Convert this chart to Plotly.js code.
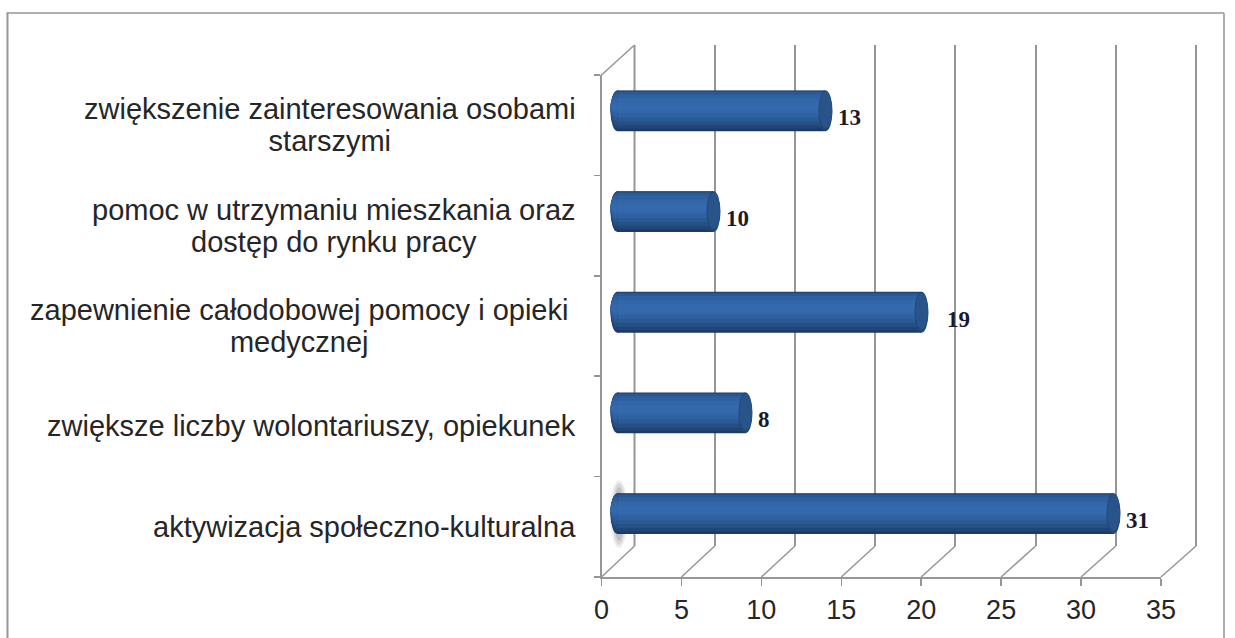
<!DOCTYPE html>
<html>
<head>
<meta charset="utf-8">
<script src="https://cdn.plot.ly/plotly-3.0.1.min.js"></script>
<style>html,body{margin:0;padding:0;background:#fff;overflow:hidden}#c{width:1235px;height:638px}</style>
</head>
<body>
<div id="c"></div>
<script>
const categories = [
  "aktywizacja społeczno-kulturalna",
  "zwiększe liczby wolontariuszy, opiekunek",
  "zapewnienie całodobowej pomocy i opieki<br>medycznej",
  "pomoc w utrzymaniu mieszkania oraz<br>dostęp do rynku pracy",
  "zwiększenie zainteresowania osobami<br>starszymi"
];
const barValues = [31, 8, 19, 6, 13];
const dataLabels = ["31", "8", "19", "10", "13"];
const xTicks = [0, 5, 10, 15, 20, 25, 30, 35];

const W = 1235, H = 638;
const px = x => x / W, py = y => 1 - y / H;
const FRONT = {l: 601.5, r: 1161, t: 75, b: 577};
const BACK = {l: 634.5, r: 1196, t: 45, b: 546};
const BARS = {l: 601.5, r: 1177.5, t: 60.5, b: 564};
const CAP = 0.875, BAR_W = 0.405;
const LINE = '#969696', TEXT = '#262626';
const LABEL_SIZE = 29, LABEL_LINE_GAP = 32;

const layers = [
  [0.00, 1.00, '#1b3a68'], [0.01, 0.94, '#214576'], [0.02, 0.86, '#265083'],
  [0.04, 0.76, '#2a5a93'], [0.10, 0.66, '#2e619f'], [0.20, 0.56, '#3266a8'],
  [0.30, 0.50, '#3469ad']
];
const traces = [];
traces.push({type:'scatter', mode:'markers', x:[0,35], y:[0,1], xaxis:'x', yaxis:'y',
  marker:{opacity:0}, hoverinfo:'skip', showlegend:false});
traces.push({type:'scatter', mode:'markers', x:barValues, y:categories, xaxis:'x2', yaxis:'y2',
  marker:{opacity:0}, hoverinfo:'skip', showlegend:false});
layers.forEach(([a, b, color]) => traces.push({
  type:'bar', orientation:'h', y:categories, x:barValues,
  xaxis:'x3', yaxis:'y3', width:BAR_W * (b - a),
  offset:BAR_W / 2 - BAR_W * b,
  marker:{color, line:{width:0}}, hoverinfo:'skip', showlegend:false
}));

const shapes = [];
const seg = (x0, y0, x1, y1, w) => shapes.push({type:'line', xref:'paper', yref:'paper',
  x0:px(x0), y0:py(y0), x1:px(x1), y1:py(y1), line:{color:LINE, width:w}, layer:'below'});
// outer frame
seg(7.5, 13, 7.5, 638, 2); seg(6.5, 13, 1224, 13, 1.5); seg(1224, 13, 1224, 638, 1.5);
// back wall edges, floor diagonals and wall top
seg(BACK.l, BACK.t, BACK.l, BACK.b, 2); seg(BACK.r, BACK.t, BACK.r, BACK.b, 2);
xTicks.forEach(t => {
  const f = FRONT.l + (FRONT.r - FRONT.l) * t / 35, b = BACK.l + (BACK.r - BACK.l) * t / 35;
  seg(f, FRONT.b, b, BACK.b, 1.5);
});
seg(FRONT.l, FRONT.t, BACK.l, BACK.t, 1.5);
// smudge behind the lowest bar
[[-8, 34, 0.10], [-6, 31, 0.14], [-4, 27, 0.18]].forEach(([dx, dy, o]) => shapes.push({
  type:'circle', xref:'paper', yref:'paper', layer:'below', opacity:o,
  fillcolor:'#555', line:{width:0},
  x0:px(618 + dx), x1:px(620 - dx), y0:py(514 + dy), y1:py(514 - dy)
}));
barValues.forEach((v, i) => {
  // rounded start of the cylinder, under the bar strips
  layers.forEach(([a, b, color]) => shapes.push({type:'circle', xref:'x3', yref:'y3', layer:'below',
    x0:-CAP / 2, x1:CAP / 2, y0:i + BAR_W / 2 - BAR_W * b, y1:i + BAR_W / 2 - BAR_W * a,
    fillcolor:color, line:{width:0}}));
  // end cap of the cylinder
  shapes.push({type:'circle', xref:'x3', yref:'y3', layer:'above', x0:v - CAP / 2, x1:v + CAP / 2,
    y0:i - BAR_W / 2, y1:i + BAR_W / 2, fillcolor:'#214776', line:{width:0}});
  shapes.push({type:'circle', xref:'x3', yref:'y3', layer:'above', x0:v - CAP / 2 + 0.05, x1:v + CAP / 2 - 0.03,
    y0:i - BAR_W * 0.42, y1:i + BAR_W * 0.47, fillcolor:'#29548a', line:{width:0}});
});

const annotations = [];
categories.forEach((c, i) => annotations.push({
  xref:'paper', yref:'y2', x:px(578), y:c, xanchor:'right', yanchor:'middle', align:'center',
  text:c, showarrow:false, xshift:i === 2 ? -8 : 0,
  yshift:c.includes('<br>') ? -3 : 0,
  font:{family:'"Liberation Sans", Arial, sans-serif', size:LABEL_SIZE, color:TEXT}
}));
dataLabels.forEach((t, i) => annotations.push({
  xref:'x3', yref:'y3', x:barValues[i] + CAP / 2, y:categories[i], xanchor:'left', yanchor:'middle',
  xshift:(i === 2 ? 16 : 3), yshift:-7, text:'<b>' + t + '</b>', showarrow:false,
  font:{family:'"Liberation Serif", serif', size:23, color:'#1a1a2a'}
}));

const layout = {
  width:W, height:H, margin:{l:0, r:0, t:0, b:0}, autosize:false,
  paper_bgcolor:'#fff', plot_bgcolor:'rgba(0,0,0,0)', showlegend:false, barmode:'overlay',
  xaxis:{domain:[px(BACK.l), px(BACK.r)], range:[0,35], tickvals:xTicks, showticklabels:false,
    ticks:'', showgrid:true, gridcolor:LINE, gridwidth:2, zeroline:false, showline:false, anchor:'y'},
  yaxis:{domain:[py(BACK.b), py(BACK.t)], range:[0,1], showticklabels:false, ticks:'',
    showgrid:false, zeroline:false, showline:false, anchor:'x'},
  xaxis2:{domain:[px(FRONT.l), px(FRONT.r)], range:[0,35], tickvals:xTicks, ticktext:xTicks.map(String),
    tickmode:'array', ticks:'outside', ticklen:7, tickwidth:1.5, tickcolor:LINE, showgrid:false, zeroline:false,
    showline:true, linecolor:LINE, linewidth:2, anchor:'y2', tickangle:0, ticklabelstandoff:1,
    tickfont:{family:'"Liberation Sans", Arial, sans-serif', size:27, color:TEXT}},
  yaxis2:{domain:[py(FRONT.b), py(FRONT.t)], type:'category', range:[-0.5,4.5], tickson:'boundaries',
    ticks:'outside', ticklen:6, tickwidth:1.5, tickcolor:LINE, showticklabels:false, showgrid:false, zeroline:false,
    showline:true, linecolor:LINE, linewidth:2, anchor:'x2'},
  xaxis3:{domain:[px(BARS.l), px(BARS.r)], range:[-1,35], visible:false, anchor:'y3'},
  yaxis3:{domain:[py(BARS.b), py(BARS.t)], type:'category', range:[-0.5,4.5], visible:false, anchor:'x3'},
  shapes, annotations
};
Plotly.newPlot('c', traces, layout, {displayModeBar:false, staticPlot:true}).then(gd => {
  // tighten the two-line category labels to the reference line gap
  gd.querySelectorAll('.annotation-text tspan.line').forEach(t => {
    const dy = parseFloat(t.getAttribute('dy'));
    if (dy > 0 && parseFloat(getComputedStyle(t).fontSize) === LABEL_SIZE) {
      t.setAttribute('dy', LABEL_LINE_GAP + 'px');
    }
  });
});
</script>
</body>
</html>
